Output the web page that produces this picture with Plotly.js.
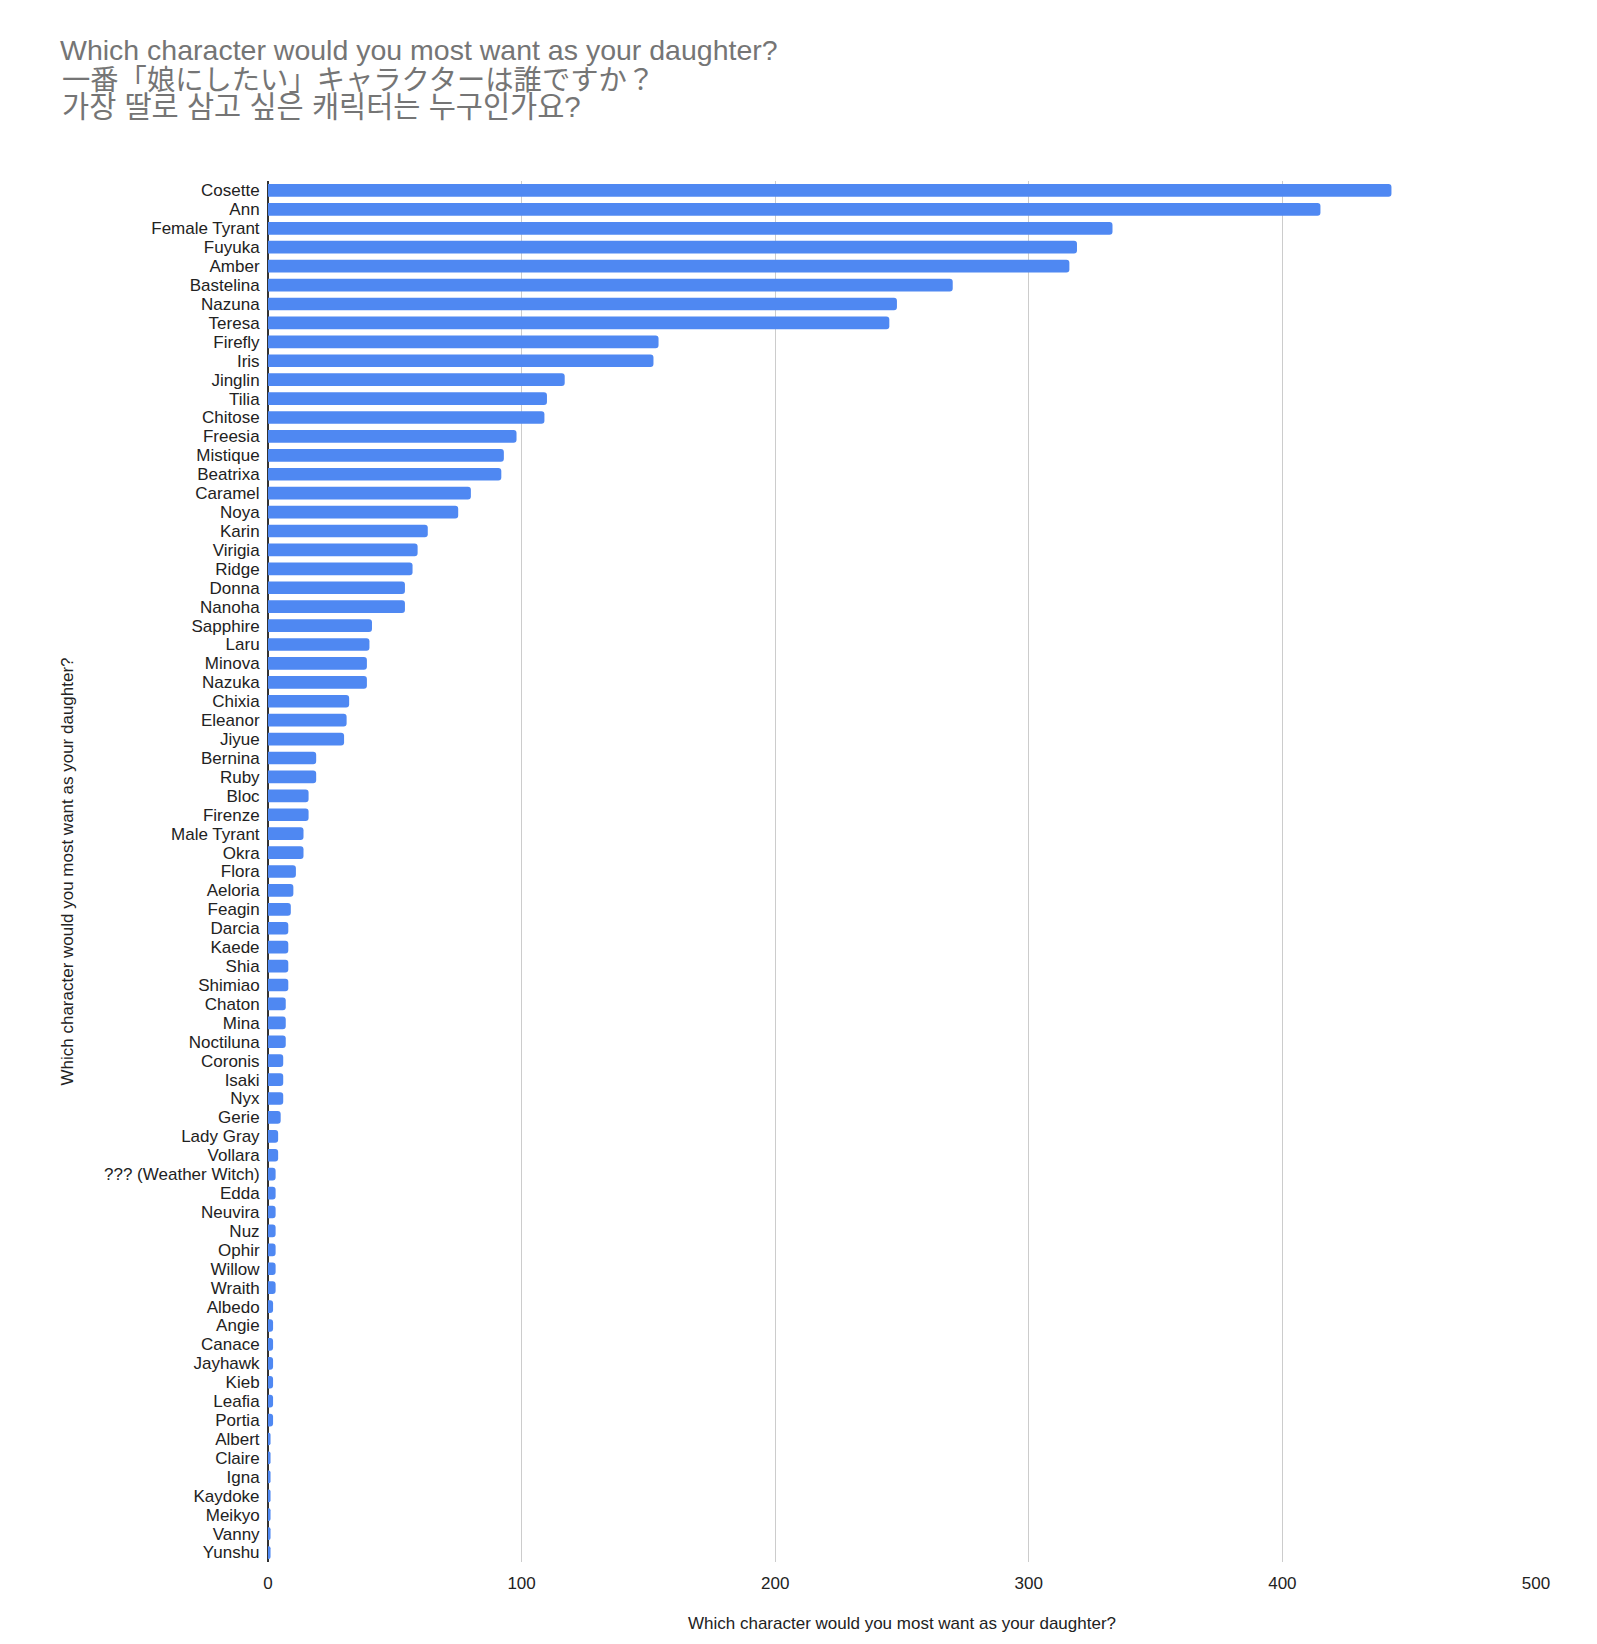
<!DOCTYPE html>
<html>
<head>
<meta charset="utf-8">
<script src="https://cdn.plot.ly/plotly-3.0.1.min.js"></script>
<style>
    html, body { margin: 0; padding: 0; background: #fff; }
    #chart { width: 1597px; height: 1644px; }
</style>
</head>
<body>
<div id="chart"></div>
<script>
// Characters, in the order they are listed (top to bottom)
var characters = [
    "Cosette", "Ann", "Female Tyrant", "Fuyuka", "Amber", "Bastelina", "Nazuna", "Teresa",
    "Firefly", "Iris", "Jinglin", "Tilia", "Chitose", "Freesia", "Mistique", "Beatrixa",
    "Caramel", "Noya", "Karin", "Virigia", "Ridge", "Donna", "Nanoha", "Sapphire",
    "Laru", "Minova", "Nazuka", "Chixia", "Eleanor", "Jiyue", "Bernina", "Ruby",
    "Bloc", "Firenze", "Male Tyrant", "Okra", "Flora", "Aeloria", "Feagin", "Darcia",
    "Kaede", "Shia", "Shimiao", "Chaton", "Mina", "Noctiluna", "Coronis", "Isaki",
    "Nyx", "Gerie", "Lady Gray", "Vollara", "??? (Weather Witch)", "Edda", "Neuvira", "Nuz",
    "Ophir", "Willow", "Wraith", "Albedo", "Angie", "Canace", "Jayhawk", "Kieb",
    "Leafia", "Portia", "Albert", "Claire", "Igna", "Kaydoke", "Meikyo", "Vanny",
    "Yunshu"
];

// Number of votes per character
var votes = [
    443, 415, 333, 319, 316, 270, 248, 245,
    154, 152, 117, 110, 109, 98, 93, 92,
    80, 75, 63, 59, 57, 54, 54, 41,
    40, 39, 39, 32, 31, 30, 19, 19,
    16, 16, 14, 14, 11, 10, 9, 8,
    8, 8, 8, 7, 7, 7, 6, 6,
    6, 5, 4, 4, 3, 3, 3, 3,
    3, 3, 3, 2, 2, 2, 2, 2,
    2, 2, 1, 1, 1, 1, 1, 1,
    1
];

var xTicks = [0, 100, 200, 300, 400, 500];

var titleLines = [
    "Which character would you most want as your daughter?",
    "一番「娘にしたい」キャラクターは誰ですか？",
    "가장 딸로 삼고 싶은 캐릭터는 누구인가요?"
];

var axisTitle = "Which character would you most want as your daughter?";

var baseFont = "Liberation Sans, Arial, sans-serif";

// Plot area in pixels, used to place the title lines
var plotTop = 181;
var plotBottom = 1562;
var plotLeft = 268;
var plotRight = 1536;

function paperX(px) {
    return (px - plotLeft) / (plotRight - plotLeft);
}

function paperY(py) {
    return (plotBottom - py) / (plotBottom - plotTop);
}

var trace = {
    type: "bar",
    orientation: "h",
    y: characters,
    x: votes,
    marker: { color: "#4f88f2", cornerradius: 3 },
    hoverinfo: "y+x"
};

var layout = {
    width: 1597,
    height: 1644,
    margin: { l: plotLeft, r: 1597 - plotRight, t: plotTop, b: 1644 - plotBottom },
    paper_bgcolor: "#fff",
    plot_bgcolor: "#fff",
    font: { family: baseFont, size: 17, color: "#222" },
    bargap: 0.33,
    showlegend: false,
    title: {
        text: titleLines[0],
        font: { family: baseFont, size: 28.5, color: "#757575" },
        xref: "container",
        yref: "container",
        x: 60 / 1597,
        xanchor: "left",
        y: 1 - 50 / 1644,
        yanchor: "middle"
    },
    annotations: [
        {
            text: titleLines[1],
            xref: "paper", yref: "paper",
            x: paperX(60), xanchor: "left",
            y: paperY(78), yanchor: "middle",
            showarrow: false,
            font: { family: "Noto Sans CJK JP, " + baseFont, size: 28.3, color: "#757575" }
        },
        {
            text: titleLines[2],
            xref: "paper", yref: "paper",
            x: paperX(60), xanchor: "left",
            y: paperY(106), yanchor: "middle",
            showarrow: false,
            font: { family: baseFont + ", Noto Sans CJK KR", size: 29.5, color: "#757575" }
        }
    ],
    xaxis: {
        range: [0, 500],
        tickvals: xTicks,
        ticktext: xTicks.map(String),
        showgrid: true,
        gridcolor: "#cccccc",
        gridwidth: 1,
        zeroline: true,
        zerolinecolor: "#333",
        zerolinewidth: 2,
        showline: false,
        ticks: "outside",
        ticklen: 6,
        tickcolor: "rgba(0,0,0,0)",
        tickfont: { size: 17, color: "#222" },
        title: {
            text: axisTitle,
            font: { size: 17, color: "#222" },
            standoff: 24
        },
        fixedrange: true
    },
    yaxis: {
        type: "category",
        autorange: "reversed",
        tickmode: "array",
        tickvals: characters,
        ticktext: characters,
        showgrid: false,
        zeroline: false,
        showline: false,
        ticks: "outside",
        ticklen: 4,
        tickcolor: "rgba(0,0,0,0)",
        tickfont: { size: 17, color: "#222" },
        title: {
            text: axisTitle,
            font: { size: 17, color: "#222" },
            standoff: 26
        },
        fixedrange: true
    }
};

var config = {
    displayModeBar: false,
    staticPlot: true
};

Plotly.newPlot("chart", [trace], layout, config);
</script>
</body>
</html>
